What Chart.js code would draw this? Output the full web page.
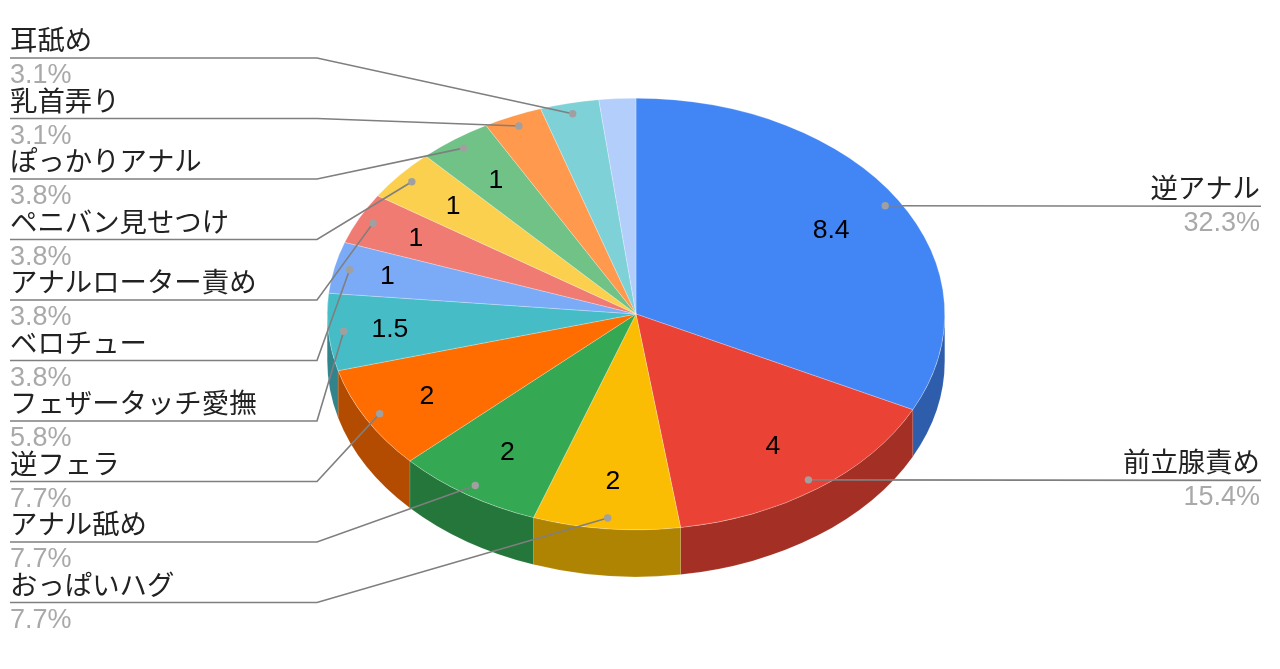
<!DOCTYPE html>
<html>
<head>
<meta charset="utf-8">
<title>pie</title>
<script src="https://cdn.jsdelivr.net/npm/chart.js@4"></script>
<style>
  html, body { margin: 0; padding: 0; background: #fff; }
  canvas { display: block; }
</style>
</head>
<body>
<canvas id="myPie" width="1280" height="669"></canvas>
<script>
const categories = ['逆アナル', '前立腺責め', 'おっぱいハグ', 'アナル舐め', '逆フェラ', 'フェザータッチ愛撫', 'ベロチュー',
  'アナルローター責め', 'ペニバン見せつけ', 'ぽっかりアナル', '乳首弄り', '耳舐め', 'その他'];
const seriesValues = [8.4, 4, 2, 2, 2, 1.5, 1, 1, 1, 1, 0.8, 0.8, 0.5];
const sliceColors = ['#4285F4', '#EA4335', '#FBBC04', '#34A853', '#FF6D01', '#46BDC6', '#7BAAF7',
  '#F07B72', '#FCD04F', '#71C287', '#FF994D', '#7ED1D7', '#B3CEFB'];

const tilt = 0.699;     // squash of the pie, height / width
const depth = 47;       // height of the side wall
const latinFont = '"Liberation Sans", sans-serif';
const nameFont = '"Noto Sans CJK JP", sans-serif';
// how far out each value sits, as a part of the radius
const labelFracs = [0.744, 0.755, 0.775, 0.76, 0.775, 0.80, 0.825, 0.795, 0.775, 0.772];
const total = seriesValues.reduce((a, b) => a + b, 0);

function darken(hex) {
  const n = parseInt(hex.slice(1), 16);
  const r = Math.round((n >> 16) * 0.7), g = Math.round(((n >> 8) & 255) * 0.7), b = Math.round((n & 255) * 0.7);
  return 'rgb(' + r + ',' + g + ',' + b + ')';
}

// point on the squashed pie at a fraction of the radius
function piePoint(arc, frac) {
  const p = arc.getProps(['x', 'y', 'startAngle', 'endAngle', 'outerRadius'], true);
  const mid = (p.startAngle + p.endAngle) / 2;
  return {
    x: p.x + Math.cos(mid) * p.outerRadius * frac,
    y: p.y + Math.sin(mid) * p.outerRadius * frac * tilt
  };
}

const pie3d = {
  id: 'pie3d',
  beforeDatasetsDraw(chart) {
    const ctx = chart.ctx;
    const arcs = chart.getDatasetMeta(0).data;

    // side walls, only the front half can be seen
    arcs.forEach((arc, i) => {
      const p = arc.getProps(['x', 'y', 'startAngle', 'endAngle', 'outerRadius'], true);
      const a0 = Math.max(p.startAngle, 0);
      const a1 = Math.min(p.endAngle, Math.PI);
      if (a1 <= a0) return;
      const r = p.outerRadius;
      ctx.beginPath();
      ctx.ellipse(p.x, p.y, r, r * tilt, 0, a0, a1);
      ctx.ellipse(p.x, p.y + depth, r, r * tilt, 0, a1, a0, true);
      ctx.closePath();
      ctx.fillStyle = darken(sliceColors[i]);
      ctx.fill();
      ctx.strokeStyle = 'rgba(255,255,255,0.2)';
      ctx.lineWidth = 0.5;
      ctx.stroke();
    });

    const first = arcs[0];
    ctx.save();
    ctx.translate(first.x, first.y);
    ctx.scale(1, tilt);
    ctx.translate(-first.x, -first.y);
  },
  afterDatasetsDraw(chart) {
    const ctx = chart.ctx;
    ctx.restore();
    const arcs = chart.getDatasetMeta(0).data;

    // callouts
    const leftIdx = [];
    for (let i = 11; i >= 2; i--) leftIdx.push(i);
    const rows = [];
    leftIdx.forEach((idx, n) => {
      rows.push({ idx: idx, y: 58 + n * 60.5, x0: 10, corner: 317, align: 'left', textX: 10 });
    });
    rows.push({ idx: 0, y: 206, x0: 1261, corner: 1261, align: 'right', textX: 1260 });
    rows.push({ idx: 1, y: 481, x0: 1261, corner: 1261, align: 'right', textX: 1260 });

    rows.forEach(row => {
      const pt = piePoint(arcs[row.idx], 0.95);
      const y = row.idx < 2 ? pt.y + 0.5 : row.y;
      ctx.beginPath();
      ctx.moveTo(row.x0, y);
      if (row.corner !== row.x0) ctx.lineTo(row.corner, y);
      ctx.lineTo(pt.x, pt.y);
      ctx.strokeStyle = '#7f7f7f';
      ctx.lineWidth = 1.6;
      ctx.stroke();

      ctx.beginPath();
      ctx.arc(pt.x, pt.y, 3.7, 0, Math.PI * 2);
      ctx.fillStyle = '#a0a0a0';
      ctx.fill();

      ctx.textAlign = row.align;
      ctx.textBaseline = 'alphabetic';
      ctx.font = '27.4px ' + nameFont;
      ctx.fillStyle = '#222222';
      ctx.fillText(categories[row.idx], row.textX, y - 8);
      ctx.font = '27px ' + latinFont;
      ctx.fillStyle = '#a9a9a9';
      ctx.fillText((seriesValues[row.idx] / total * 100).toFixed(1) + '%', row.textX, y + 25);
    });

    // values inside the slices, small ones get none
    seriesValues.forEach((v, i) => {
      if (v < 1) return;
      const pt = piePoint(arcs[i], labelFracs[i]);
      ctx.font = '26.6px ' + latinFont;
      ctx.textAlign = 'center';
      ctx.textBaseline = 'middle';
      ctx.fillStyle = '#000000';
      ctx.fillText(String(v), pt.x, pt.y + 1);
    });
  }
};

new Chart(document.querySelector('#myPie'), {
  type: 'pie',
  data: {
    labels: categories,
    datasets: [{
      data: seriesValues,
      backgroundColor: sliceColors,
      borderColor: 'rgba(255,255,255,0.6)',
      borderWidth: 0.5,
      clip: false
    }]
  },
  options: {
    responsive: false,
    animation: false,
    layout: { padding: { left: 327, right: 335, top: 5, bottom: 46 } },
    plugins: { legend: { display: false }, tooltip: { enabled: false } }
  },
  plugins: [pie3d]
});
</script>
</body>
</html>
